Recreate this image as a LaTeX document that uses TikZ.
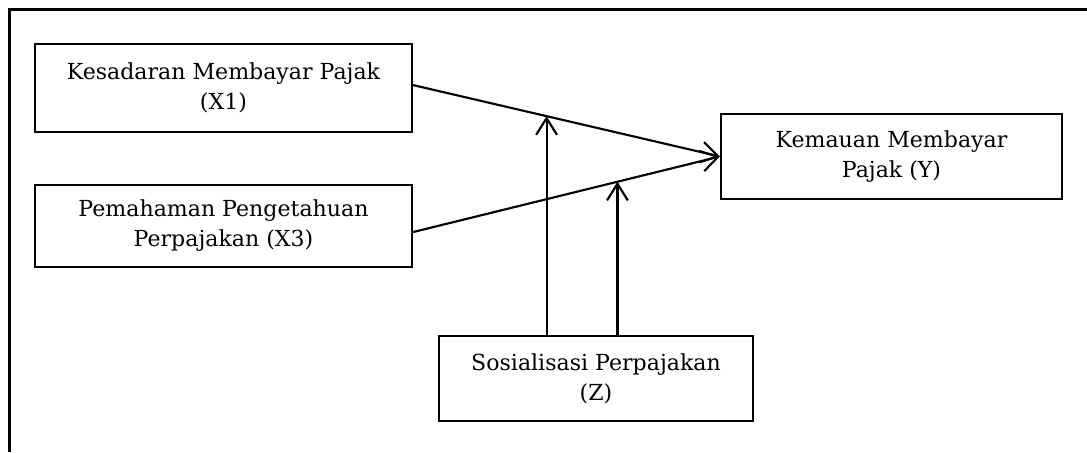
\documentclass[tikz,border=0pt]{standalone}
\usepackage{fontspec}
\setmainfont{DejaVu Serif}
\usetikzlibrary{calc,arrows.meta}
\tikzset{
	varbox/.style={draw, line width=0.36mm, align=center, inner sep=2pt,
		font=\fontsize{10.6}{14.4}\selectfont},
	link/.style={line width=0.36mm, -{Straight Barb[length=8pt, width=10pt]}}
}

\begin{document}
\begin{tikzpicture}[x=0.48pt, y=-0.48pt]
		%%%%% START %%%%%
		\useasboundingbox (0, 0) rectangle (1087, 452);
		
		\draw[line width=0.42mm] (9.5, 452) -- (9.5, 9.5) -- (1087, 9.5);
		
		\node[varbox, minimum width=181pt, minimum height=42.2pt] (x1) at (223.5, 88) {Kesadaran Membayar Pajak\\(X1)};
		\node[varbox, minimum width=181pt, minimum height=39.4pt] (x3) at (223.5, 226) {Pemahaman Pengetahuan\\Perpajakan (X3)};
		\node[varbox, minimum width=163.7pt, minimum height=40.8pt] (y) at (891.5, 156.5) {Kemauan Membayar\\Pajak (Y)};
		\node[varbox, minimum width=150.7pt, minimum height=40.8pt] (z) at (596, 378.5) {Sosialisasi Perpajakan\\(Z)};
		
		\coordinate (s1) at ([yshift=1.4pt]x1.east);
		\coordinate (s3) at ([yshift=-2.9pt]x3.east);
		\draw[link] (s1) -- (y.west);
		\draw[link] (s3) -- (y.west);
		
		\coordinate (m1) at ($(s1)!0.435!(y.west)$);
		\coordinate (m3) at ($(s3)!0.666!(y.west)$);
		\draw[link] (z.north -| m1) -- (m1);
		\draw[link] (z.north -| m3) -- (m3);
		
		%%%%% END %%%%%
	\end{tikzpicture}
\end{document}
